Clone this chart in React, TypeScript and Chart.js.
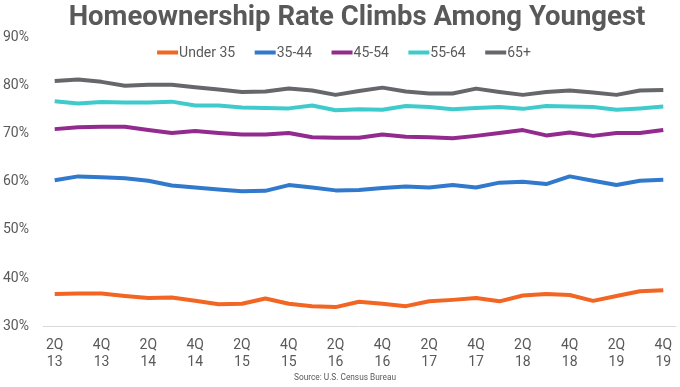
import React, { useEffect, useRef } from "react";
import { Chart, registerables } from "chart.js";

Chart.register(...registerables);

const quarters = [
  "2Q13", "3Q13", "4Q13",
  "1Q14", "2Q14", "3Q14", "4Q14",
  "1Q15", "2Q15", "3Q15", "4Q15",
  "1Q16", "2Q16", "3Q16", "4Q16",
  "1Q17", "2Q17", "3Q17", "4Q17",
  "1Q18", "2Q18", "3Q18", "4Q18",
  "1Q19", "2Q19", "3Q19", "4Q19",
];

const under35 = [36.7, 36.8, 36.8, 36.3, 35.9, 36.0, 35.3, 34.6, 34.7, 35.8, 34.7, 34.2, 34.0, 35.1, 34.7, 34.2, 35.2, 35.5, 35.9, 35.2, 36.4, 36.7, 36.5, 35.3, 36.3, 37.3, 37.5];
const age35_44 = [60.3, 61.1, 60.9, 60.7, 60.2, 59.2, 58.8, 58.4, 58.0, 58.1, 59.3, 58.8, 58.2, 58.3, 58.7, 59.0, 58.8, 59.3, 58.8, 59.8, 60.0, 59.5, 61.1, 60.2, 59.3, 60.2, 60.4];
const age45_54 = [70.9, 71.3, 71.4, 71.4, 70.7, 70.1, 70.5, 70.1, 69.8, 69.8, 70.1, 69.2, 69.1, 69.1, 69.8, 69.3, 69.2, 69.0, 69.5, 70.1, 70.7, 69.6, 70.2, 69.5, 70.1, 70.1, 70.7];
const age55_64 = [76.7, 76.2, 76.5, 76.4, 76.4, 76.6, 75.8, 75.8, 75.4, 75.3, 75.2, 75.8, 74.8, 75.0, 74.9, 75.7, 75.5, 75.0, 75.3, 75.5, 75.1, 75.7, 75.6, 75.5, 74.9, 75.2, 75.6];
const age65plus = [80.9, 81.2, 80.7, 79.9, 80.1, 80.1, 79.6, 79.1, 78.6, 78.7, 79.3, 78.9, 78.0, 78.8, 79.5, 78.7, 78.3, 78.3, 79.3, 78.6, 78.0, 78.6, 78.9, 78.5, 78.0, 78.9, 79.0];

const seriesNames = ["Under 35", "35-44", "45-54", "55-64", "65+"];
const seriesColors = ["#f26522", "#3079cc", "#932b8e", "#3fcbcb", "#65676b"];

const titleText = "Homeownership Rate Climbs Among Youngest";
const sourceText = "Source: U.S. Census Bureau";

const TEXT = "#595959";

const overlayPlugin = {
  id: "overlay",
  afterDraw(chart: any) {
    const ctx = chart.ctx;
    const area = chart.chartArea;
    ctx.save();
    // title
    ctx.fillStyle = TEXT;
    ctx.font = "bold 27.5px Roboto";
    ctx.textAlign = "center";
    ctx.textBaseline = "alphabetic";
    const cx = (area.left + area.right) / 2 - 2;
    ctx.fillText(titleText, cx, 24.5);

    // legend
    ctx.font = "14px Roboto";
    const sample = 21;
    const gap = 1;
    const spacing = 19.5;
    const items = chart.data.datasets.map((d: any) => ({
      label: d.label,
      color: d.borderColor,
      w: sample + gap + ctx.measureText(d.label).width,
    }));
    const total = items.reduce((s: number, it: any) => s + it.w, 0) + spacing * (items.length - 1);
    let x = 344 - total / 2;
    const ly = 52.5;
    ctx.textAlign = "left";
    ctx.textBaseline = "middle";
    items.forEach((it: any) => {
      ctx.strokeStyle = it.color;
      ctx.lineWidth = 4;
      ctx.lineCap = "butt";
      ctx.beginPath();
      ctx.moveTo(x, ly);
      ctx.lineTo(x + sample, ly);
      ctx.stroke();
      ctx.fillStyle = TEXT;
      ctx.fillText(it.label, x + sample + gap, ly + 0.5);
      x += it.w + spacing;
    });

    // source
    ctx.font = "8.3px Roboto";
    ctx.textAlign = "center";
    ctx.textBaseline = "middle";
    ctx.fillText(sourceText, 345, 377.5);
    ctx.restore();
  },
};

export default function App() {
  const ref = useRef<HTMLCanvasElement | null>(null);

  useEffect(() => {
    document.body.style.margin = "0";
    const values = [under35, age35_44, age45_54, age55_64, age65plus];
    const chart = new Chart(ref.current as HTMLCanvasElement, {
      type: "line",
      data: {
        labels: quarters,
        datasets: values.map((v, i) => ({
          label: seriesNames[i],
          data: v,
          borderColor: seriesColors[i],
          backgroundColor: seriesColors[i],
          borderWidth: 4,
          pointRadius: 0,
          tension: 0,
          borderJoinStyle: "round" as const,
        })),
      },
      options: {
        animation: false,
        responsive: false,
        layout: { padding: { top: 37, left: 3, right: 5, bottom: 13 } },
        plugins: {
          legend: { display: false },
          title: { display: false },
          tooltip: { enabled: false },
        },
        scales: {
          x: {
            offset: true,
            grid: { display: false },
            border: { display: true, color: "#d9d9d9", width: 1 },
            ticks: {
              autoSkip: false,
              maxRotation: 0,
              color: TEXT,
              font: { family: "Roboto", size: 14 },
              padding: 3,
              callback: (_v: any, i: number) =>
                i % 2 === 0 ? [quarters[i].slice(0, 2), quarters[i].slice(2)] : "",
            },
          },
          y: {
            min: 30,
            max: 90,
            grid: { display: false, drawTicks: false },
            border: { display: false },
            afterFit: (scale: any) => {
              scale.width = 40;
            },
            ticks: {
              stepSize: 10,
              color: TEXT,
              crossAlign: "far",
              font: { family: "Roboto", size: 14 },
              padding: 10,
              callback: (v: any) => v + "%",
            },
          },
        },
      },
      plugins: [overlayPlugin],
    });
    return () => chart.destroy();
  }, []);

  return <canvas ref={ref} width={680} height={387} style={{ display: "block" }} />;
}
